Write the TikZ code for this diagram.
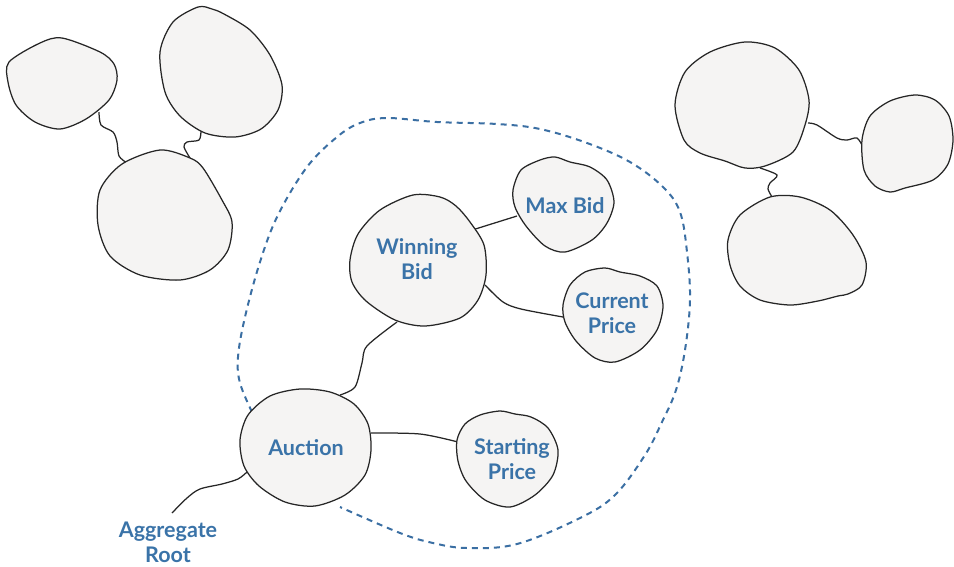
\documentclass[tikz,border=0pt]{standalone}
\usepackage{fontspec}
\setmainfont{Lato}
\definecolor{txtblue}{HTML}{3A73A8}
\definecolor{dashblue}{HTML}{3B6FA3}
\definecolor{blobfill}{HTML}{F5F4F3}
\tikzset{
  blob/.style={draw=black!85, fill=blobfill, line width=1.25pt},
  link/.style={draw=black!85, line width=1.25pt},
  lbl/.style={text=txtblue, font=\bfseries\fontsize{21.5}{25}\selectfont, align=center, inner sep=0pt},
  boundary/.style={draw=dashblue, line width=2pt, dash pattern=on 6pt off 5pt}
}
\begin{document}
\begin{tikzpicture}[x=1pt,y=-1pt]
\useasboundingbox (0,0) rectangle (954,566);

% aggregate boundary (dashed)
\draw[boundary] plot[smooth, tension=0.6] coordinates {
 (252,412) (240,383) (238,357) (245,317) (260,262) (278,215) (307,167) (337,137)
 (360,123) (387,118) (437,122) (497,124) (540,129) (587,143) (630,162) (663,187)
 (680,212) (687,252) (690,300) (685,350) (676,390) (662,422) (645,455) (615,495)
 (580,518) (517,544) (467,548) (433,543) (400,533) (340,507)};

% connector end points
\coordinate (a-s) at (99,112);   \coordinate (c-n1) at (127,163);
\coordinate (b-s) at (201,131);  \coordinate (c-n2) at (190,158);
\coordinate (d-e) at (808,123);  \coordinate (e-w) at (863,147);
\coordinate (d-s) at (760,168);  \coordinate (f-n) at (772,197);
\coordinate (w-ne) at (469,231); \coordinate (m-w) at (517,216);
\coordinate (w-e) at (485,285);  \coordinate (cp-w) at (563,317);
\coordinate (w-s) at (397,322);  \coordinate (au-n) at (340,395);
\coordinate (au-e) at (371,433); \coordinate (sp-w) at (458,442);
\coordinate (au-sw) at (247,472); \coordinate (root) at (172,513);

% connectors
\draw[link] plot[smooth] coordinates {(a-s) (101,125) (113,132) (117,142) (119,156) (c-n1)};
\draw[link] plot[smooth] coordinates {(b-s) (199,140) (187,142) (184,147) (c-n2)};
\draw[link] plot[smooth] coordinates {(d-e) (817,125) (837,138) (847,140) (857,138) (e-w)};
\draw[link] plot[smooth] coordinates {(d-s) (777,175) (770,183) (768,189) (f-n)};
\draw[link] (w-ne) -- (m-w);
\draw[link] plot[smooth] coordinates {(w-e) (503,302) (521,309) (cp-w)};
\draw[link] plot[smooth] coordinates {(w-s) (367,346) (362,363) (355,387) (au-n)};
\draw[link] plot[smooth] coordinates {(au-e) (420,434) (sp-w)};
\draw[link] plot[smooth] coordinates {(au-sw) (238,479) (222,484) (200,489) (187,498) (root)};

% left group blobs
\draw[blob] plot[smooth cycle] coordinates {(9,62) (40,43) (62,38) (100,52) (114,64) (117,80) (109,100) (86,119) (60,129) (35,122) (16,105) (8,82)};
\draw[blob] plot[smooth cycle] coordinates {(160,52) (173,22) (198,7) (212,9) (224,14) (250,30) (270,55) (282,85) (278,110) (261,129) (235,137) (205,133) (180,116) (165,92)};
\draw[blob] plot[smooth cycle] coordinates {(100,190) (122,164) (160,150) (190,158) (203,168) (222,200) (232,222) (228,250) (210,270) (180,280) (140,275) (110,256) (98,225)};

% right group blobs
\draw[blob] plot[smooth cycle] coordinates {(675,105) (685,72) (710,52) (745,42) (775,48) (799,70) (809,100) (805,125) (793,152) (765,166) (745,168) (725,161) (700,153) (684,140)};
\draw[blob] plot[smooth cycle] coordinates {(862,140) (870,116) (890,101) (915,95) (935,100) (949,116) (953,140) (948,164) (933,180) (905,188) (890,192) (875,186) (864,170)};
\draw[blob] plot[smooth cycle] coordinates {(728,240) (740,215) (770,197) (800,197) (830,210) (853,235) (866,262) (862,285) (848,294) (838,296) (818,301) (790,305) (760,300) (740,286) (730,265)};

% aggregate blobs
\draw[blob] plot[smooth cycle] coordinates {(350,260) (358,234) (380,210) (413,195) (440,197) (456,206) (470,222) (484,245) (486,275) (478,300) (460,318) (425,326) (395,320) (366,301) (352,282)};
\draw[blob] plot[smooth cycle] coordinates {(513,190) (521,170) (540,160) (555,157) (570,162) (590,167) (607,180) (614,202) (607,223) (592,240) (565,252) (545,246) (526,226) (515,207)};
\draw[blob] plot[smooth cycle] coordinates {(563,305) (570,285) (585,272) (605,268) (620,272) (640,276) (657,286) (663,306) (657,330) (640,350) (615,362) (595,358) (576,341) (565,322)};
\draw[blob] plot[smooth cycle] coordinates {(240,440) (248,415) (270,396) (300,389) (330,392) (354,404) (368,424) (371,450) (365,475) (345,495) (315,506) (285,502) (259,486) (244,466)};
\draw[blob] plot[smooth cycle] coordinates {(457,440) (465,424) (480,415) (500,411) (515,414) (531,417) (548,428) (558,450) (553,475) (535,495) (510,507) (485,500) (466,481) (458,461)};

% labels
\node[lbl] (winbid) at (417,259) {Winning\\Bid};
\node[lbl] (maxbid) at (565,206) {Max Bid};
\node[lbl] (curprice) at (612,313) {Current\\Price};
\node[lbl] (auction) at (306,448) {Auction};
\node[lbl] (startprice) at (512,459) {Starting\\Price};
\node[lbl] (aggroot) at (168,542) {Aggregate\\Root};
\end{tikzpicture}
\end{document}
